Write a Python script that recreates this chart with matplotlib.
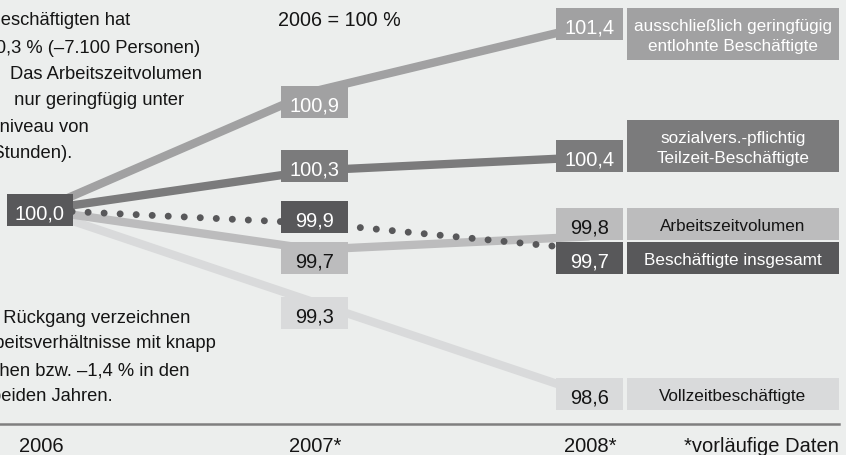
import matplotlib.pyplot as plt
from matplotlib.patches import Rectangle

plt.rcParams['font.family'] = ['Liberation Sans', 'DejaVu Sans']

# Werte, 2006 = 100 %
jahre = ["2006", "2007*", "2008*"]
geringfuegig = [100.0, 100.9, 101.4]
teilzeit = [100.0, 100.3, 100.4]
arbeitszeit = [100.0, 99.7, 99.8]
insgesamt = [100.0, 99.9, 99.7]
vollzeit = [100.0, 99.3, 98.6]
namen = ["ausschließlich geringfügig\nentlohnte Beschäftigte",
         "sozialvers.-pflichtig\nTeilzeit-Beschäftigte",
         "Arbeitszeitvolumen",
         "Beschäftigte insgesamt",
         "Vollzeitbeschäftigte"]

reihen = [geringfuegig, teilzeit, arbeitszeit, insgesamt, vollzeit]
farben = ["#a1a1a2", "#7b7b7c", "#bcbcbd", "#58585a", "#d9dadb"]
schrift = ["white", "white", "#151515", "white", "#151515"]
bg = "#eceeed"

# layout in pixels (picture is 846x456)
spalte_x = [40, 314.5, 589.5]
oben_2007 = [87, 151, 243, 202, 298]
oben_2008 = [9, 141, 209, 243, 379]
name_kasten = [(9, 52), (121, 52), (209, 32), (243, 32), (379, 32)]

# the notes run past the left edge of the picture
text_oben = [("Die Zahl der Beschäftigten hat", 130, 25),
             ("sich 2008 um –0,3 % (–7.100 Personen)", 200, 53),
             ("verringert.  Das Arbeitszeitvolumen", 202, 79),
             ("liegt damit   nur geringfügig unter", 184, 105),
             ("dem Vorjahresniveau von", 89, 132),
             ("(3,9 Mrd. Stunden).", 72, 158)]
text_unten = [("Den stärksten Rückgang verzeichnen", 190, 323),
              ("die Vollzeitarbeitsverhältnisse mit knapp", 216, 348),
              ("–0,7 % in den ersten zwölf Wochen bzw. –1,4 % in den", 189, 375),
              ("beiden Jahren.", 113, 401)]


def py(p):
    # pixel row -> value axis
    return 100 + (211 - p) / 132


def kasten(x, top, w, h, farbe):
    ax.add_patch(Rectangle((x, py(top + h)), w, h / 132, facecolor=farbe,
                           edgecolor='none', zorder=3))


def wert(v):
    return f"{v:.1f}".replace(".", ",")


fig = plt.figure(figsize=(8.46, 4.56), dpi=100)
fig.patch.set_facecolor(bg)
ax = fig.add_axes([0, 0, 1, 1])
ax.set_facecolor(bg)
ax.set_xlim(0, 846)
ax.set_ylim(py(456), py(0))
ax.axis('off')

# lines
for i in [4, 2, 0, 1]:
    ax.plot(spalte_x, reihen[i], color=farben[i], lw=6,
            solid_capstyle='butt', solid_joinstyle='round', zorder=1)
ax.plot(spalte_x, insgesamt, color=farben[3], lw=5,
        linestyle=(0, (0.01, 2.3)), dash_capstyle='round', zorder=2)

# start box 2006
kasten(7, 195, 66, 32, farben[3])
ax.text(40, py(211 + 8.5), wert(insgesamt[0]), color='white', fontsize=14.4,
        ha='center', va='baseline', zorder=4)

for i, r in enumerate(reihen):
    # 2007
    kasten(281, oben_2007[i], 67, 32, farben[i])
    ax.text(314.5, py(oben_2007[i] + 16 + 8.5), wert(r[1]), color=schrift[i],
            fontsize=14.4, ha='center', va='baseline', zorder=4)
    # 2008
    kasten(556, oben_2008[i], 67, 32, farben[i])
    ax.text(589.5, py(oben_2008[i] + 16 + 8.5), wert(r[2]), color=schrift[i],
            fontsize=14.4, ha='center', va='baseline', zorder=4)
    # name
    top, h = name_kasten[i]
    kasten(627, top, 212, h, farben[i])
    zeilen = namen[i].split("\n")
    mitte = top + h / 2
    if len(zeilen) == 1:
        basis = [mitte + 6]
    else:
        basis = [mitte - 3.5, mitte + 16]
    for z, b in zip(zeilen, basis):
        ax.text(733, py(b), z, color=schrift[i], fontsize=12.3,
                ha='center', va='baseline', zorder=4)

ax.text(278, py(26), "2006 = 100 %", fontsize=14.2, color='#151515',
        ha='left', va='baseline')

for z, x, b in text_oben + text_unten:
    ax.text(x, py(b), z, fontsize=13.2, color='#151515', ha='right', va='baseline')

ax.axhline(py(425), xmin=0, xmax=839 / 846, color='#7f7f7f', lw=1.8)
for j, x in zip(jahre, spalte_x):
    ax.text(x + 1, py(452), j, fontsize=14.5, color='#151515', ha='center', va='baseline')
ax.text(839, py(452), "*vorläufige Daten", fontsize=14.5, color='#151515',
        ha='right', va='baseline')

fig.savefig("out.png", dpi=100, facecolor=bg)
